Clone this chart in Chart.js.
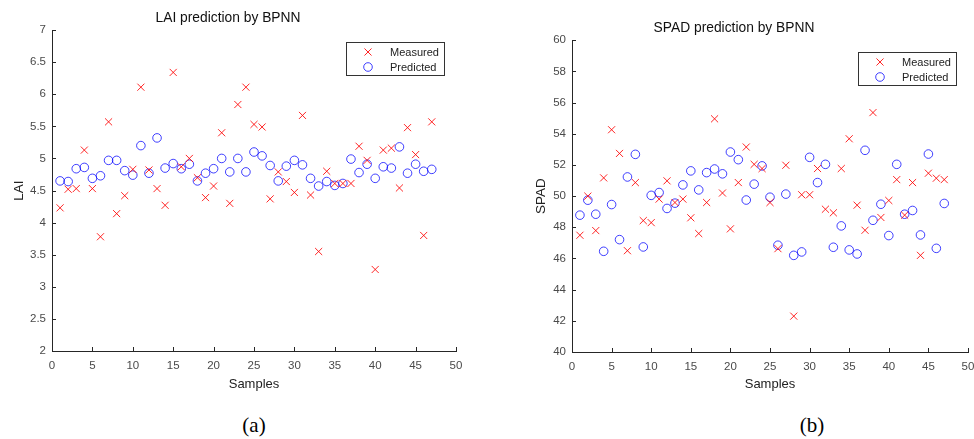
<!DOCTYPE html>
<html><head><meta charset="utf-8">
<script src="https://cdn.jsdelivr.net/npm/chart.js@4.4.1/dist/chart.umd.min.js"></script>
<style>
html,body{margin:0;padding:0;background:#fff;width:974px;height:439px;overflow:hidden;}
.box{position:absolute;top:0;height:400px;}
#wa{left:0;width:470px;}
#wb{left:500px;width:474px;}
.cap{position:absolute;top:425px;font-family:"Liberation Serif","Times New Roman",serif;font-size:21px;color:#000;transform:translate(-50%,-50%);white-space:nowrap;}
</style></head><body>
<div class="box" id="wa"><canvas id="ca" width="470" height="400" style="width:470px;height:400px"></canvas></div>
<div class="box" id="wb"><canvas id="cb" width="474" height="400" style="width:474px;height:400px"></canvas></div>
<div class="cap" style="left:254px">(a)</div>
<div class="cap" style="left:812px">(b)</div>
<script>
// ---- data ----
const samples = [1,2,3,4,5,6,7,8,9,10,11,12,13,14,15,16,17,18,19,20,21,22,23,24,25,26,27,28,29,30,31,32,33,34,35,36,37,38,39,40,41,42,43,44,45,46,47];
const laiMeasured = [4.23,4.52,4.53,5.13,4.53,3.78,5.57,4.14,4.42,4.83,6.11,4.82,4.53,4.27,6.34,4.87,5.00,4.70,4.39,4.57,5.40,4.30,5.84,6.11,5.53,5.49,4.37,4.79,4.64,4.47,5.67,4.43,3.55,4.80,4.61,4.61,4.61,5.19,4.97,3.27,5.13,5.16,4.54,5.48,5.06,3.80,5.57];
const laiPredicted = [4.65,4.64,4.84,4.86,4.69,4.73,4.97,4.97,4.81,4.74,5.20,4.77,5.32,4.85,4.92,4.84,4.91,4.65,4.77,4.84,5.00,4.79,5.00,4.79,5.10,5.04,4.89,4.65,4.88,4.97,4.90,4.69,4.57,4.64,4.58,4.61,4.99,4.78,4.91,4.69,4.87,4.85,5.18,4.77,4.91,4.80,4.83];
const spadMeasured = [47.49,50.00,47.79,51.17,54.26,52.74,46.50,50.87,48.43,48.30,49.81,50.98,49.59,49.81,48.61,47.60,49.59,54.96,50.20,47.90,50.87,53.15,52.04,51.77,49.59,46.63,51.98,42.30,50.09,50.09,51.77,49.16,48.93,51.77,53.68,49.42,47.81,55.36,48.63,49.72,51.06,48.78,50.87,46.20,51.47,51.15,51.06];
const spadPredicted = [48.78,49.74,48.84,46.46,49.46,47.21,51.23,52.68,46.74,50.05,50.23,49.21,49.55,50.72,51.62,50.40,51.51,51.74,51.43,52.83,52.34,49.75,50.77,51.94,49.93,46.85,50.13,46.20,46.42,52.49,50.87,52.04,46.72,48.09,46.55,46.29,52.94,48.45,49.48,47.47,52.04,48.84,49.08,47.51,52.70,46.65,49.53];
const seriesLabels = ['Measured','Predicted'];
const titles = ['LAI prediction by BPNN','SPAD prediction by BPNN'];
const yLabels = ['LAI','SPAD'];
const xLabel = 'Samples';

const FONT = '"Liberation Sans", Arial, Helvetica, sans-serif';
const RED = 'rgba(255,0,0,0.85)';
const BLUE = 'rgba(0,0,255,0.75)';
const AXIS = '#262626';
const TICKTXT = '#4a4a4a';

function pts(ys){ return samples.map((s,i)=>({x:s,y:ys[i]})); }
function fmt(v){ return String(Number(Number(v).toFixed(2))); }

const inwardTicks = {
  id:'inwardTicks',
  afterDraw(chart, args, o){
    const ctx = chart.ctx, a = chart.chartArea, xs = chart.scales.x, ys = chart.scales.y;
    ctx.save();
    ctx.strokeStyle = o.color; ctx.lineWidth = 1;
    ctx.beginPath();
    xs.ticks.forEach(t=>{ const p = Math.round(xs.getPixelForValue(t.value))+0.5; ctx.moveTo(p, a.bottom); ctx.lineTo(p, a.bottom-o.len); });
    ys.ticks.forEach(t=>{ const p = Math.round(ys.getPixelForValue(t.value))+0.5; ctx.moveTo(a.left, p); ctx.lineTo(a.left+o.len, p); });
    ctx.stroke();
    ctx.restore();
  }
};

function marker(ctx, style, r, x, y){
  ctx.beginPath();
  if(style==='circle'){ ctx.arc(x,y,r,0,Math.PI*2); }
  else { const d = r*Math.SQRT1_2; ctx.moveTo(x-d,y-d); ctx.lineTo(x+d,y+d); ctx.moveTo(x+d,y-d); ctx.lineTo(x-d,y+d); }
  ctx.stroke();
}

const boxLegend = {
  id:'boxLegend',
  afterDraw(chart, args, o){
    const ctx = chart.ctx, a = chart.chartArea, ds = chart.data.datasets;
    ctx.save();
    ctx.font = o.font;
    const tw = Math.max(...ds.map(d=>ctx.measureText(d.label).width));
    const w = Math.round(o.textOffset + tw + o.padRight), h = o.height;
    const x0 = Math.round(a.right - o.insetX - w), y0 = Math.round(a.top + o.insetY);
    ctx.fillStyle = '#fff'; ctx.fillRect(x0,y0,w,h);
    ctx.strokeStyle = o.border; ctx.lineWidth = 1; ctx.strokeRect(x0+0.5,y0+0.5,w,h);
    ds.forEach((d,i)=>{
      const y = y0 + o.rowTop + i*o.rowGap;
      ctx.strokeStyle = d.borderColor; ctx.lineWidth = d.borderWidth;
      marker(ctx, d.pointStyle, d.pointRadius, x0+o.markerOffset, y);
      ctx.fillStyle = o.color; ctx.textBaseline = 'middle'; ctx.textAlign = 'left';
      ctx.fillText(d.label, x0+o.textOffset, y+0.5);
    });
    ctx.restore();
  }
};

function makeChart(id, meas, pred, title, ylab, yMin, yMax, yStep, cfg){
  return new Chart(document.getElementById(id), {
    type:'scatter',
    data:{ datasets:[
      {label:seriesLabels[0], data:pts(meas), pointStyle:'crossRot', pointRadius:5, borderColor:RED, backgroundColor:'rgba(0,0,0,0)', borderWidth:1, pointHoverRadius:5},
      {label:seriesLabels[1], data:pts(pred), pointStyle:'circle', pointRadius:4.3, borderColor:BLUE, backgroundColor:'rgba(0,0,0,0)', borderWidth:1, pointHoverRadius:4.3}
    ]},
    options:{
      responsive:false, animation:false, events:[],
      layout:{padding:{left:0,right:cfg.padRight,top:0,bottom:0}},
      plugins:{
        legend:{display:false}, tooltip:{enabled:false},
        title:{display:true, text:title, color:'#111', font:{family:FONT,size:13.8,weight:'normal'}, padding:{top:cfg.titleTop,bottom:cfg.titleBottom}},
        inwardTicks:{color:AXIS, len:4},
        boxLegend:{font:'11px '+FONT, color:'#222', border:'#333', insetX:12, insetY:12, height:33, rowTop:10, rowGap:15, markerOffset:22, textOffset:44, padRight:5}
      },
      scales:{
        x:{type:'linear', min:0, max:50,
          ticks:{stepSize:5, color:TICKTXT, font:{family:FONT,size:11.5}, padding:8, maxRotation:0, callback:fmt},
          grid:{drawOnChartArea:false, drawTicks:false},
          border:{display:true, color:AXIS, width:1},
          title:{display:true, text:xLabel, color:'#222', font:{family:FONT,size:13}, padding:{top:0,bottom:8}},
          afterFit:s=>{s.height = cfg.xH; s.paddingLeft = 0; s.paddingRight = 0;}
        },
        y:{type:'linear', min:yMin, max:yMax,
          ticks:{stepSize:yStep, color:TICKTXT, font:{family:FONT,size:11.5}, padding:6, callback:fmt},
          grid:{drawOnChartArea:false, drawTicks:false},
          border:{display:true, color:AXIS, width:1},
          title:{display:true, text:ylab, color:'#222', font:{family:FONT,size:13.5}, padding:{top:cfg.yTitlePad,bottom:0}},
          afterFit:s=>{s.width = cfg.yW;}
        }
      }
    },
    plugins:[inwardTicks, boxLegend]
  });
}

makeChart('ca', laiMeasured, laiPredicted, titles[0], yLabels[0], 2, 7, 0.5,
  {padRight:14, titleTop:10, titleBottom:3.5, xH:49, yW:52, yTitlePad:11});
makeChart('cb', spadMeasured, spadPredicted, titles[1], yLabels[1], 40, 60, 2,
  {padRight:6, titleTop:20, titleBottom:3.7, xH:48, yW:72, yTitlePad:33});
</script>
</body></html>
